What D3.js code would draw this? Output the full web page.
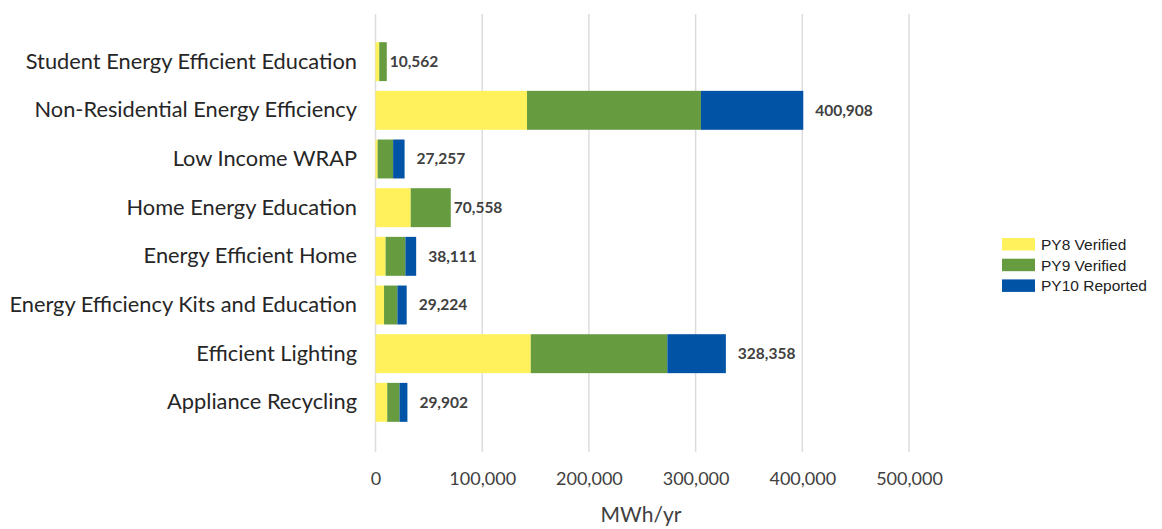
<!DOCTYPE html>
<html>
<head>
<meta charset="utf-8">
<script src="https://cdn.jsdelivr.net/npm/d3@7"></script>
<style>
  html, body { margin: 0; padding: 0; background: #ffffff; }
  svg { display: block; }
</style>
</head>
<body>
<svg id="chart" width="1162" height="529"></svg>
<script>
// Savings by program, MWh/yr
const categories = [
  "Student Energy Efficient Education",
  "Non-Residential Energy Efficiency",
  "Low Income WRAP",
  "Home Energy Education",
  "Energy Efficient Home",
  "Energy Efficiency Kits and Education",
  "Efficient Lighting",
  "Appliance Recycling"
];
const seriesNames = ["PY8 Verified", "PY9 Verified", "PY10 Reported"];
const py8Verified  = [3500, 142000, 2000, 33000, 9500, 8000, 145500, 11000];
const py9Verified  = [7062, 163000, 14500, 37558, 18500, 12500, 128000, 11500];
const py10Reported = [0, 95908, 10757, 0, 10111, 8724, 54858, 7402];
const totals       = [10562, 400908, 27257, 70558, 38111, 29224, 328358, 29902];
const xTicks = [0, 100000, 200000, 300000, 400000, 500000];
const axisTitle = "MWh/yr";

const colors = ["#FFF15C", "#679B40", "#0053A5"];

const svg = d3.select("#chart");

const rows = categories.map((c, i) => ({
  category: c,
  "PY8 Verified": py8Verified[i],
  "PY9 Verified": py9Verified[i],
  "PY10 Reported": py10Reported[i],
  total: totals[i]
}));

const x = d3.scaleLinear().domain([0, 500000]).range([375.5, 909]);
const y = d3.scaleBand().domain(categories).range([12, 452])
  .paddingInner(0.2).paddingOuter(0.62);
const color = d3.scaleOrdinal().domain(seriesNames).range(colors);

// vertical gridlines
svg.append("g")
  .selectAll("line")
  .data(xTicks)
  .join("line")
  .attr("x1", d => x(d)).attr("x2", d => x(d))
  .attr("y1", 14).attr("y2", 452)
  .attr("stroke", "#dcdcdc")
  .attr("stroke-width", 1.5);

// x axis labels
const xAxis = d3.axisBottom(x)
  .tickValues(xTicks)
  .tickFormat(d3.format(","))
  .tickSize(0)
  .tickPadding(0);
const gx = svg.append("g").attr("transform", "translate(0,479)").call(xAxis);
gx.select(".domain").remove();
gx.selectAll("text")
  .attr("dy", "0.35em")
  .attr("y", 0)
  .attr("font-family", "Lato, 'Open Sans', sans-serif")
  .attr("font-size", 18)
  .attr("fill", "#404040");

// axis title
svg.append("text")
  .attr("x", 641).attr("y", 515)
  .attr("dy", "0.35em")
  .attr("text-anchor", "middle")
  .attr("font-family", "Lato, 'Open Sans', sans-serif")
  .attr("font-size", 21)
  .attr("fill", "#404040")
  .text(axisTitle);

// category labels
const yAxis = d3.axisLeft(y).tickSize(0).tickPadding(0);
const gy = svg.append("g").attr("transform", "translate(357,0)").call(yAxis);
gy.select(".domain").remove();
gy.selectAll("text")
  .attr("font-family", "Lato, 'Open Sans', sans-serif")
  .attr("font-size", 21.8)
  .attr("fill", "#262626");

// stacked bars
const stack = d3.stack().keys(seriesNames);
const layers = stack(rows);
svg.append("g")
  .selectAll("g")
  .data(layers)
  .join("g")
  .attr("fill", d => color(d.key))
  .selectAll("rect")
  .data(d => d)
  .join("rect")
  .attr("x", d => x(d[0]))
  .attr("y", d => y(d.data.category))
  .attr("width", d => Math.max(0, x(d[1]) - x(d[0])))
  .attr("height", y.bandwidth());

// total labels
svg.append("g")
  .selectAll("text")
  .data(rows)
  .join("text")
  .attr("x", d => x(d.total) + (d["PY10 Reported"] > 0 ? 12 : 3))
  .attr("y", d => y(d.category) + y.bandwidth() / 2)
  .attr("dy", "0.35em")
  .attr("font-family", "Lato, 'Open Sans', sans-serif")
  .attr("font-size", 15.5)
  .attr("font-weight", 700)
  .attr("fill", "#404040")
  .text(d => d3.format(",")(d.total));

// legend
const legend = svg.append("g").attr("transform", "translate(1002,238)");
const item = legend.selectAll("g")
  .data(seriesNames)
  .join("g")
  .attr("transform", (d, i) => `translate(0,${i * 20.7})`);
item.append("rect")
  .attr("width", 33).attr("height", 12.5)
  .attr("fill", d => color(d));
item.append("text")
  .attr("x", 39).attr("y", 6.5)
  .attr("dy", "0.35em")
  .attr("font-family", "'Liberation Sans', Arial, sans-serif")
  .attr("font-size", 15.5)
  .attr("fill", "#222")
  .text(d => d);
</script>
</body>
</html>
